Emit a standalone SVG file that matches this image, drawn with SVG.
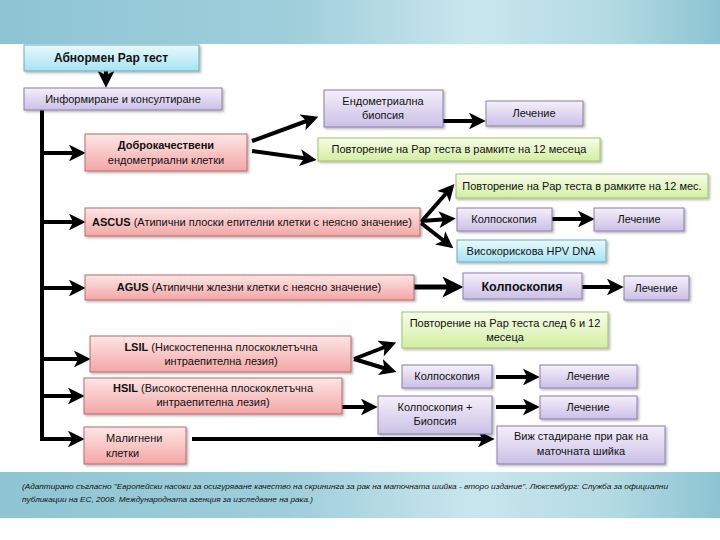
<svg xmlns="http://www.w3.org/2000/svg" width="720" height="540" viewBox="0 0 720 540">
<defs>
<linearGradient id="band" x1="0" y1="0" x2="1" y2="0">
<stop offset="0" stop-color="#8ec5d3"/>
<stop offset="0.4" stop-color="#9fcedb"/>
<stop offset="0.66" stop-color="#c9e6ed"/>
<stop offset="0.85" stop-color="#b3dae3"/>
<stop offset="1" stop-color="#8cc4d2"/>
</linearGradient>
<linearGradient id="gCyan" x1="0" y1="0" x2="0" y2="1">
<stop offset="0" stop-color="#e8fafd"/><stop offset="1" stop-color="#a6e3f3"/>
</linearGradient>
<linearGradient id="gLav" x1="0" y1="0" x2="0" y2="1">
<stop offset="0" stop-color="#f4f0fa"/><stop offset="1" stop-color="#cbc0e7"/>
</linearGradient>
<linearGradient id="gPink" x1="0" y1="0" x2="0" y2="1">
<stop offset="0" stop-color="#fee6e6"/><stop offset="1" stop-color="#f3a6a6"/>
</linearGradient>
<linearGradient id="gGreen" x1="0" y1="0" x2="0" y2="1">
<stop offset="0" stop-color="#f7fde8"/><stop offset="1" stop-color="#d3eea2"/>
</linearGradient>
<filter id="sh" x="-10%" y="-20%" width="120%" height="150%">
<feDropShadow dx="1.5" dy="1.5" stdDeviation="1" flood-color="#000" flood-opacity="0.3"/>
</filter>
<marker id="ah" viewBox="0 0 10 10" refX="6" refY="5" markerWidth="4.2" markerHeight="4.2" orient="auto" markerUnits="strokeWidth">
<path d="M0,0 L10,5 L0,10 L2.5,5 z" fill="#000"/>
</marker>
<style>
.cy{fill:url(#gCyan);stroke:#6fa9b7;stroke-width:1;filter:url(#sh)}
.lv{fill:url(#gLav);stroke:#8a7fa8;stroke-width:1;filter:url(#sh)}
.pk{fill:url(#gPink);stroke:#b76b6b;stroke-width:1;filter:url(#sh)}
.gr{fill:url(#gGreen);stroke:#a0bf6c;stroke-width:1;filter:url(#sh)}
text{font-family:"Liberation Sans","Noto Sans",sans-serif;font-size:11px;fill:#111;text-anchor:middle}
.b{font-weight:bold}
.ft{font-style:italic;font-size:8px;text-anchor:start}
.c path,.c line{stroke:#000;stroke-width:4;fill:none}
.c .a{marker-end:url(#ah)}
</style>
</defs>
<rect x="0" y="0" width="720" height="44" fill="url(#band)"/>
<rect x="0" y="472" width="720" height="46" fill="url(#band)"/>

<g id="connectors" class="c">
<path d="M42,110 V439 H78" class="a"/>
<line x1="42" y1="153" x2="79" y2="153" class="a"/>
<line x1="42" y1="222" x2="79" y2="222" class="a"/>
<line x1="42" y1="288" x2="79" y2="288" class="a"/>
<line x1="42" y1="359" x2="84" y2="359" class="a"/>
<line x1="42" y1="396" x2="78" y2="396" class="a"/>
<line x1="106" y1="71" x2="106" y2="81" class="a"/>
<line x1="252" y1="141" x2="312" y2="119" class="a"/>
<line x1="252" y1="151" x2="310" y2="159" class="a"/>
<line x1="443" y1="121" x2="479" y2="121" class="a"/>
<line x1="421" y1="222" x2="450" y2="189" class="a"/>
<line x1="421" y1="221" x2="449" y2="219" class="a"/>
<line x1="421" y1="223" x2="448" y2="244" class="a"/>
<line x1="552" y1="219" x2="588" y2="219" class="a"/>
<line x1="414" y1="287" x2="455" y2="287" class="a" style="stroke-width:5"/>
<line x1="582" y1="287" x2="617" y2="287" class="a"/>
<line x1="354" y1="359" x2="390" y2="345" class="a"/>
<line x1="354" y1="359" x2="390" y2="370" class="a"/>
<line x1="496" y1="377" x2="533" y2="377" class="a"/>
<line x1="342" y1="407" x2="371" y2="407" class="a"/>
<line x1="496" y1="407" x2="533" y2="407" class="a"/>
<line x1="192" y1="439" x2="488" y2="439" class="a"/>
</g>

<g id="n1"><rect class="cy" x="24" y="45" width="175" height="26"/><text x="111" y="62" class="b" style="font-size:12px">Абнормен Pap тест</text></g>
<g id="n2"><rect class="lv" x="24" y="88" width="198" height="22"/><text x="123" y="103">Информиране и консултиране</text></g>
<g id="n3"><rect class="lv" x="324" y="90" width="119" height="37"/><text x="383" y="105">Ендометриална</text><text x="383" y="119">биопсия</text></g>
<g id="n4"><rect class="lv" x="486" y="101" width="97" height="25"/><text x="534" y="117">Лечение</text></g>
<g id="n5"><rect class="pk" x="85" y="134" width="162" height="37"/><text x="166" y="149" class="b">Доброкачествени</text><text x="166" y="164">ендометриални клетки</text></g>
<g id="n6"><rect class="gr" x="318" y="138" width="282" height="23"/><text x="459" y="153">Повторение на Pap теста в рамките на 12 месеца</text></g>
<g id="n7"><rect class="gr" x="456" y="174" width="252" height="24"/><text x="582" y="190">Повторение на Pap теста в рамките на 12 мес.</text></g>
<g id="n8"><rect class="pk" x="85" y="208" width="335" height="28"/><text x="252" y="226"><tspan class="b">ASCUS</tspan> (Атипични плоски епителни клетки с неясно значение)</text></g>
<g id="n9"><rect class="lv" x="457" y="208" width="95" height="23"/><text x="504" y="223">Колпоскопия</text></g>
<g id="n10"><rect class="lv" x="594" y="208" width="90" height="23"/><text x="639" y="223">Лечение</text></g>
<g id="n11"><rect class="cy" x="457" y="240" width="149" height="22"/><text x="531" y="255">Високорискова HPV DNA</text></g>
<g id="n12"><rect class="pk" x="85" y="275" width="329" height="25"/><text x="249" y="291"><tspan class="b">AGUS</tspan> (Атипични жлезни клетки с неясно значение)</text></g>
<g id="n13"><rect class="lv" x="463" y="273" width="119" height="26"/><text x="522" y="291" class="b" style="font-size:12.5px">Колпоскопия</text></g>
<g id="n14"><rect class="lv" x="624" y="276" width="65" height="24"/><text x="656" y="292">Лечение</text></g>
<g id="n15"><rect class="gr" x="402" y="312" width="206" height="36"/><text x="505" y="327">Повторение на Pap теста след 6 и 12</text><text x="505" y="341">месеца</text></g>
<g id="n16"><rect class="pk" x="90" y="336" width="261" height="36"/><text x="221" y="351"><tspan class="b">LSIL</tspan> (Нискостепенна плоскоклетъчна</text><text x="221" y="365">интраепителна лезия)</text></g>
<g id="n17"><rect class="lv" x="402" y="365" width="90" height="23"/><text x="447" y="380">Колпоскопия</text></g>
<g id="n18"><rect class="lv" x="540" y="365" width="97" height="23"/><text x="588" y="380">Лечение</text></g>
<g id="n19"><rect class="pk" x="84" y="378" width="258" height="36"/><text x="213" y="392"><tspan class="b">HSIL</tspan> (Високостепенна плоскоклетъчна</text><text x="213" y="406">интраепителна лезия)</text></g>
<g id="n20"><rect class="lv" x="378" y="396" width="114" height="38"/><text x="435" y="411">Колпоскопия +</text><text x="435" y="425">Биопсия</text></g>
<g id="n21"><rect class="lv" x="540" y="396" width="97" height="23"/><text x="588" y="411">Лечение</text></g>
<g id="n22"><rect class="pk" x="84" y="427" width="102" height="37"/><text x="106" y="442" style="text-anchor:start">Малигнени</text><text x="106" y="457" style="text-anchor:start">клетки</text></g>
<g id="n23"><rect class="lv" x="497" y="426" width="168" height="38"/><text x="581" y="440">Виж стадиране при рак на</text><text x="581" y="455">маточната шийка</text></g>

<text class="ft" x="22" y="489" textLength="646" lengthAdjust="spacingAndGlyphs">(Адаптирано съгласно "Европейски насоки за осигуряване качество на скрининга за рак на маточната шийка - второ издание". Люксембург: Служба за официални</text>
<text class="ft" x="22" y="502" textLength="291" lengthAdjust="spacingAndGlyphs">публикации на ЕС, 2008. Международната агенция за изследване на рака.)</text>
</svg>
